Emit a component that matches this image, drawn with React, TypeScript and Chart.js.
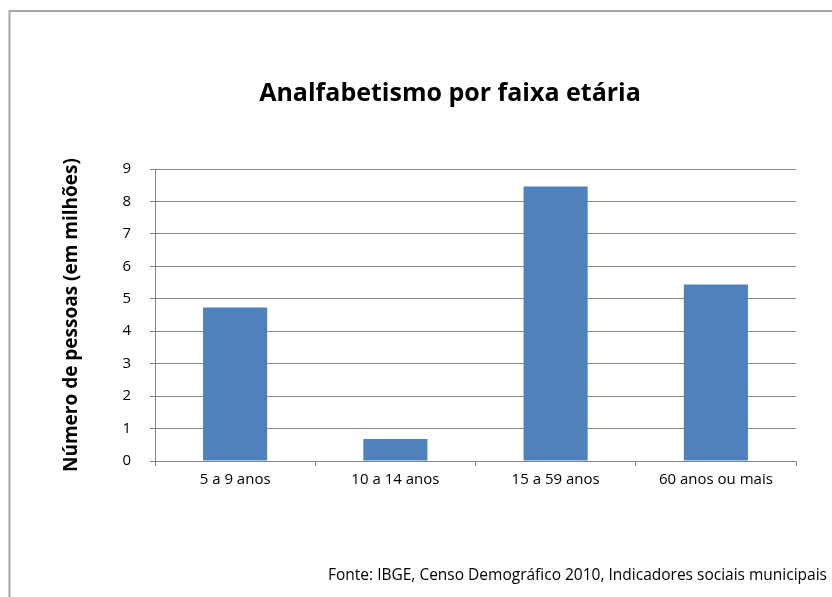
import { useEffect, useRef } from "react";
import { Chart, registerables } from "chart.js";

Chart.register(...registerables);

const categories = ["5 a 9 anos", "10 a 14 anos", "15 a 59 anos", "60 anos ou mais"];
const values = [4.73, 0.68, 8.46, 5.44];
const yMin = 0;
const yMax = 9;
const yStep = 1;
const chartTitle = "Analfabetismo por faixa etária";
const yAxisTitle = "Número de pessoas (em milhões)";
const sourceNote = "Fonte: IBGE, Censo Demográfico 2010, Indicadores sociais municipais";

const FONT = "'Open Sans', Lato, sans-serif";

const decorPlugin = {
  id: "decor",
  beforeDraw(chart: any) {
    const { ctx, width, height } = chart;
    ctx.save();
    ctx.fillStyle = "#ffffff";
    ctx.fillRect(0, 0, width, height);
    ctx.strokeStyle = "#a6a6a6";
    ctx.lineWidth = 2;
    ctx.beginPath();
    ctx.moveTo(width, 11);
    ctx.lineTo(9.5, 11);
    ctx.lineTo(9.5, height);
    ctx.stroke();
    ctx.restore();
  },
  afterDraw(chart: any) {
    const { ctx } = chart;
    ctx.save();
    ctx.fillStyle = "#000000";
    ctx.textAlign = "center";
    ctx.textBaseline = "alphabetic";
    ctx.font = `bold 25px ${FONT}`;
    ctx.fillText(chartTitle, 450, 101);
    ctx.textAlign = "right";
    ctx.font = `15.5px ${FONT}`;
    ctx.fillText(sourceNote, 827, 580);
    ctx.restore();
  },
};

export default function App() {
  const ref = useRef<HTMLCanvasElement | null>(null);

  useEffect(() => {
    if (!ref.current) return;
    const chart = new Chart(ref.current, {
      type: "bar",
      data: {
        labels: categories,
        datasets: [
          {
            data: values,
            backgroundColor: "#4f81bd",
            borderWidth: 0,
            barPercentage: 0.4,
            categoryPercentage: 1,
          },
        ],
      },
      options: {
        animation: false,
        responsive: false,
        maintainAspectRatio: false,
        layout: { padding: { left: 58, right: 36, top: 169, bottom: 0 } },
        plugins: {
          legend: { display: false },
          title: { display: false },
          tooltip: { enabled: false },
        },
        scales: {
          x: {
            offset: true,
            grid: {
              display: true,
              offset: true,
              drawOnChartArea: false,
              drawTicks: true,
              tickLength: 5,
              color: "#868686",
            },
            border: { display: true, color: "#868686", width: 1 },
            ticks: {
              color: "#000000",
              font: { family: FONT, size: 15 },
              padding: 5,
              maxRotation: 0,
            },
            afterFit(scale: any) {
              scale.height = 136;
            },
          },
          y: {
            min: yMin,
            max: yMax,
            grid: {
              color: "#868686",
              lineWidth: 1,
              drawTicks: true,
              tickLength: 5,
            },
            border: { display: true, color: "#868686", width: 1 },
            ticks: {
              stepSize: yStep,
              color: "#000000",
              font: { family: FONT, size: 15 },
              padding: 19,
            },
            title: {
              display: true,
              text: yAxisTitle,
              color: "#000000",
              font: { family: FONT, size: 19, weight: "bold" },
              padding: { top: 2, bottom: 0 },
            },
            afterFit(scale: any) {
              scale.width = 97;
            },
          },
        },
      },
      plugins: [decorPlugin],
    });
    return () => chart.destroy();
  }, []);

  return (
    <div style={{ position: "fixed", left: 0, top: 0, width: 832, height: 597, background: "#fff" }}>
      <canvas ref={ref} width={832} height={597} style={{ display: "block", width: 832, height: 597 }} />
    </div>
  );
}
